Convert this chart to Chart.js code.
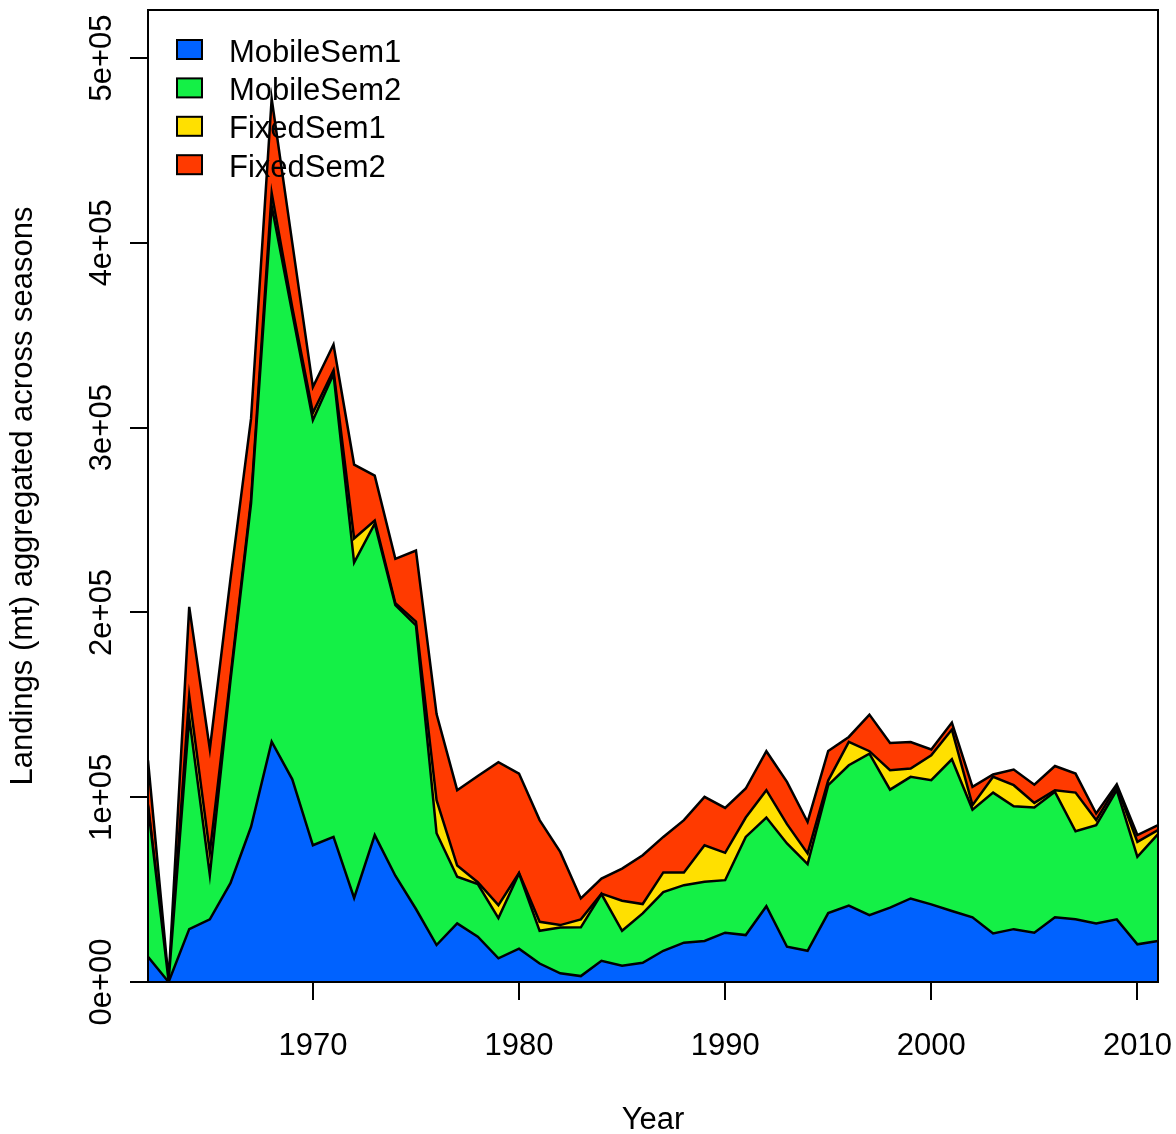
<!DOCTYPE html>
<html>
<head>
<meta charset="utf-8">
<title>Landings aggregated across seasons</title>
<script src="https://cdn.jsdelivr.net/npm/chart.js@4.4.0/dist/chart.umd.min.js"></script>
<style>
  body { margin: 0; background: #fff; }
</style>
</head>
<body>
<canvas id="grafico" width="1176" height="1134"></canvas>
<script>

var years = [1962, 1963, 1964, 1965, 1966, 1967, 1968, 1969, 1970, 1971,
             1972, 1973, 1974, 1975, 1976, 1977, 1978, 1979, 1980, 1981,
             1982, 1983, 1984, 1985, 1986, 1987, 1988, 1989, 1990, 1991,
             1992, 1993, 1994, 1995, 1996, 1997, 1998, 1999, 2000, 2001,
             2002, 2003, 2004, 2005, 2006, 2007, 2008, 2009, 2010, 2011];

// landings (mt) per fleet / semester
var mobileSem1 = [13700, 0, 28600, 33900, 53500, 84000, 130000, 109700, 74000, 78500,
                  45500, 79500, 57500, 39500, 20000, 31700, 24500, 12800, 18000, 10000,
                  4700, 3200, 11500, 8800, 10400, 16900, 21300, 22200, 26700, 25400,
                  41000, 19100, 16900, 37300, 41300, 36200, 40200, 45200, 42000, 38400,
                  35000, 26300, 28600, 26700, 35000, 34000, 31700, 33900, 20400, 22200];

var mobileSem2 = [81300, 500, 114400, 24100, 109500, 175000, 290000, 252300, 230000, 250500,
                  181500, 168500, 146500, 153500, 60500, 25300, 28500, 21800, 40700, 17700,
                  24800, 26400, 36100, 18900, 26700, 31700, 31100, 32000, 28400, 53100,
                  48000, 55900, 46900, 69200, 76000, 87400, 63900, 65800, 67200, 82100,
                  58300, 76200, 66500, 67700, 67900, 47600, 53200, 69900, 47300, 57800];

var fixedSem1 = [1000, 0, 12000, 12000, 2000, 2000, 7000, 3000, 4000, 2000,
                 13000, 1700, 1000, 2000, 17900, 6000, 1000, 7000, 300, 4900,
                 1300, 4300, 200, 16300, 5100, 10700, 6900, 19800, 14800, 10500,
                 14800, 10400, 5800, 2500, 12600, 1300, 10500, 4500, 13500, 16100,
                 2400, 8500, 11400, 2500, 900, 20900, 2700, 2100, 8100, 2200];

var fixedSem2 = [24000, 500, 48000, 56000, 53000, 44000, 51000, 35000, 14000, 14000,
                 40000, 24300, 24000, 38500, 46600, 40800, 57500, 77400, 53800, 55000,
                 39600, 11300, 8200, 17400, 26400, 19200, 28300, 26200, 24300, 15700,
                 21100, 22900, 17000, 16000, 2700, 19800, 14800, 14400, 3100, 3800,
                 9900, 1300, 8500, 9900, 13100, 10300, 3600, 1100, 3700, 2700];

var xTicks = [1970, 1980, 1990, 2000, 2010];
var yTicks = [0, 100000, 200000, 300000, 400000, 500000];
var yTickLabels = ['0e+00', '1e+05', '2e+05', '3e+05', '4e+05', '5e+05'];

var FONT = '"Liberation Sans", Arial, sans-serif';
Chart.defaults.font.family = FONT;
Chart.defaults.color = '#000';

function camada(label, valores, cor, fill) {
	return {
		label: label,
		data: valores,
		backgroundColor: cor,
		borderColor: '#000',
		borderWidth: 2.5,
		pointRadius: 0,
		tension: 0,
		fill: fill
	};
}

// box around the plot, rotated y labels and the legend (R style)
var estiloR = {
	id: 'estiloR',
	afterDraw: function(chart) {
		var ctx = chart.ctx;
		var a = chart.chartArea;
		var sy = chart.scales.y;

		ctx.save();
		ctx.strokeStyle = '#000';
		ctx.lineWidth = 2;
		ctx.strokeRect(a.left, a.top, a.right - a.left, a.bottom - a.top);

		ctx.fillStyle = '#000';
		ctx.font = '31px ' + FONT;
		ctx.textAlign = 'center';
		ctx.textBaseline = 'alphabetic';
		yTicks.forEach(function(v, i) {
			ctx.save();
			ctx.translate(111, sy.getPixelForValue(v));
			ctx.rotate(-Math.PI / 2);
			ctx.fillText(yTickLabels[i], 0, 0);
			ctx.restore();
		});

		ctx.textAlign = 'left';
		ctx.textBaseline = 'middle';
		chart.data.datasets.forEach(function(ds, i) {
			var top = 40 + i * 38.4;
			ctx.fillStyle = ds.backgroundColor;
			ctx.fillRect(177, top, 25, 19);
			ctx.lineWidth = 2;
			ctx.strokeRect(177, top, 25, 19);
			ctx.fillStyle = '#000';
			ctx.fillText(ds.label, 229, top + 13);
		});
		ctx.restore();
	}
};

function exibirGrafico() {

	var data = {
		labels: years,
		datasets: [
			camada('MobileSem1', mobileSem1, '#0062FF', 'origin'),
			camada('MobileSem2', mobileSem2, '#14F046', '-1'),
			camada('FixedSem1', fixedSem1, '#FFE000', '-1'),
			camada('FixedSem2', fixedSem2, '#FF3A00', '-1')
		]
	};

	var options = {
		responsive: false,
		animation: false,
		layout: { padding: { top: 10, right: 18, left: 0, bottom: 0 } },
		plugins: {
			legend: { display: false },
			tooltip: { enabled: false }
		},
		scales: {
			x: {
				type: 'linear',
				min: 1962,
				max: 2011,
				afterBuildTicks: function(s) { s.ticks = xTicks.map(function(v) { return { value: v }; }); },
				afterFit: function(s) { s.height = 152; s.paddingLeft = 0; s.paddingRight = 0; },
				grid: { drawOnChartArea: false, tickLength: 18, color: '#000', lineWidth: 2 },
				border: { display: false },
				ticks: { color: '#000', font: { size: 31 }, padding: 28, maxRotation: 0, autoSkip: false,
					callback: function(v) { return String(v); } },
				title: { display: true, text: 'Year', color: '#000', font: { size: 31, lineHeight: 0.75 },
					padding: { top: 0, bottom: 2 } }
			},
			y: {
				stacked: true,
				min: 0,
				max: 526000,
				afterBuildTicks: function(s) { s.ticks = yTicks.map(function(v) { return { value: v }; }); },
				afterFit: function(s) { s.width = 148; s.paddingTop = 0; s.paddingBottom = 0; },
				grid: { drawOnChartArea: false, tickLength: 18, color: '#000', lineWidth: 2 },
				border: { display: false },
				ticks: { display: false },
				title: { display: true, text: 'Landings (mt) aggregated across seasons', color: '#000',
					font: { size: 31, lineHeight: 1 }, padding: { top: 8, bottom: 0 } }
			}
		}
	};

	var ctx = document.getElementById('grafico').getContext('2d');
	new Chart(ctx, { type: 'line', data: data, options: options, plugins: [estiloR] });
}

exibirGrafico();
</script>
</body>
</html>
